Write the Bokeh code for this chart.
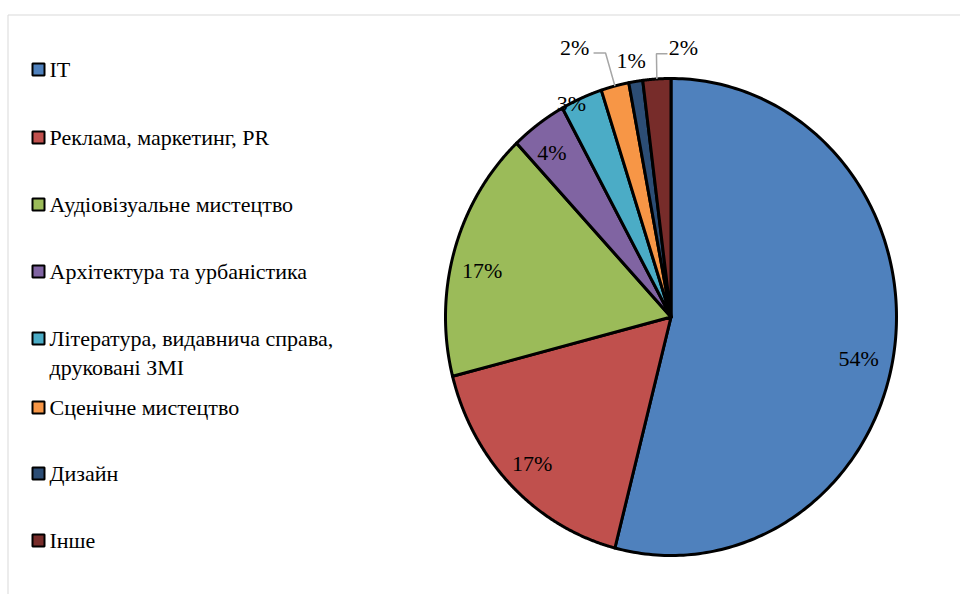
import textwrap
import numpy as np
from bokeh.plotting import figure
from bokeh.models import Range1d, Label, LabelSet, ColumnDataSource
from bokeh.core.properties import value
from bokeh.embed import file_html
from bokeh.resources import INLINE

# ---------------- data ----------------
categories = [
    "IT",
    "Реклама, маркетинг, PR",
    "Аудіовізуальне мистецтво",
    "Архітектура та урбаністика",
    "Література, видавнича справа, друковані ЗМІ",
    "Сценічне мистецтво",
    "Дизайн",
    "Інше",
]
shares = [54, 17, 17, 4, 3, 2, 1, 2]
colors = ["#4F81BD", "#C0504D", "#9BBB59", "#8064A2",
          "#4BACC6", "#F79646", "#2C4D75", "#772C2A"]

# ---------------- layout ----------------
W, H = 960, 594
CX, CY = 670.5, 316.5         # pie centre (px)
RX, RY = 225.5, 238.5         # pie radii (px)
FONT_NAME = "Liberation Serif"
FS = "22px"

# label placement: (radius factor, angle shift in degrees)
label_pos = [(0.85, 4.6), (0.87, 0.0), (0.86, -3.0), (0.87, -1.4),
             (1.0, -2.8), (1.21, -6.3), (1.09, -0.3), (1.13, 6.4)]
# leader lines: index -> (end dx px from label centre, elbow dx px from end)
leaders = {5: (19, 12), 7: (-16, -11)}
LEADER_DY = 6

legend_y = [69, 137, 204, 271, 338, 407, 473, 540]
LEG_SQ_X, LEG_TX_X, LINE_STEP = 38, 49, 29


def dx(px):
    return (px - CX) / RX


def dy(py):
    return (CY - py) / RY


p = figure(width=W, height=H,
           x_range=Range1d(-CX / RX, (W - CX) / RX),
           y_range=Range1d(-(H - CY) / RY, CY / RY),
           output_backend="svg", toolbar_location=None,
           x_axis_location=None, y_axis_location=None, min_border=0)
p.grid.visible = False
p.outline_line_color = None

# ---------------- geometry (computed from data) ----------------
total = float(sum(shares))
cum = np.concatenate([[0.0], np.cumsum(shares) / total])
xs, ys, mids = [], [], []
for i in range(len(shares)):
    th = np.linspace(cum[i], cum[i + 1], 200) * 2 * np.pi
    xs.append([0.0] + [float(v) for v in np.sin(th)])
    ys.append([0.0] + [float(v) for v in np.cos(th)])
    mids.append(float((cum[i] + cum[i + 1]) * np.pi))

lx, ly, lt = [], [], []
for i, v in enumerate(shares):
    r, sh = label_pos[i]
    a = mids[i] + np.deg2rad(sh)
    lx.append(float(r * np.sin(a)))
    ly.append(float(r * np.cos(a)))
    lt.append(f"{v}%")

# chart-area border (top + left visible in the reference)
p.line([dx(7.5), dx(7.5), dx(W)], [dy(H), dy(14.5), dy(14.5)], line_color="#d9d9d9", line_width=1)

# ---------------- wedges ----------------
p.patches(xs, ys, fill_color=colors, line_color="black", line_width=3, line_join="round")

for i, (edx, eldx) in leaders.items():
    ex = lx[i] + edx / RX
    ey = ly[i] - LEADER_DY / RY
    elx = ex + eldx / RX
    px0, py0 = float(np.sin(mids[i])), float(np.cos(mids[i]))
    p.line([px0, elx, ex], [py0, ey, ey], line_color="#a6a6a6", line_width=1.5)

# ---------------- percent labels ----------------
lab_src = ColumnDataSource(dict(x=lx, y=ly, text=lt))
p.add_layout(LabelSet(x="x", y="y", text="text", source=lab_src,
                      text_font=value(FONT_NAME), text_font_size=FS, text_color="black",
                      text_align="center", text_baseline="middle"))

# ---------------- legend ----------------
sqx, sqy = [], []
for i, name in enumerate(categories):
    y0 = legend_y[i]
    sqx.append(dx(LEG_SQ_X))
    sqy.append(dy(y0))
    for k, line in enumerate(textwrap.wrap(name, 30)):
        p.add_layout(Label(x=dx(LEG_TX_X), y=dy(y0 + k * LINE_STEP), text=line,
                           text_font=FONT_NAME, text_font_size=FS, text_color="black",
                           text_align="left", text_baseline="middle"))

p.scatter(sqx, sqy, marker="square", size=12, fill_color=colors,
          line_color="black", line_width=2)

open("out.html", "w").write(file_html(p, INLINE))
